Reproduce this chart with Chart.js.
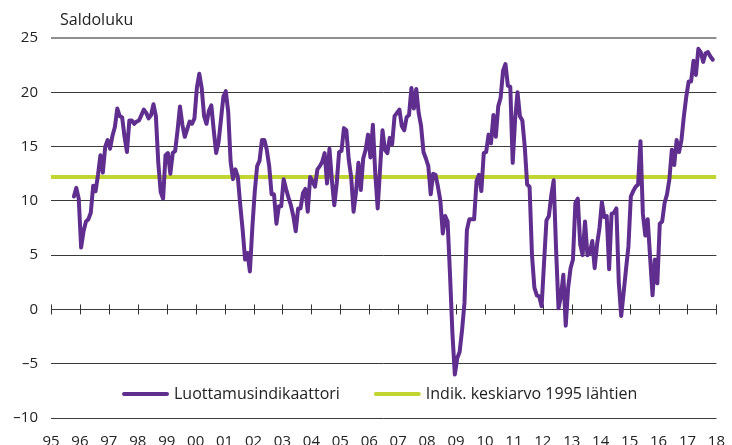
<!DOCTYPE html>
<html>
<head>
<meta charset="utf-8">
<script src="https://cdn.jsdelivr.net/npm/chart.js@4.4.0/dist/chart.umd.min.js"></script>
<style>
  html, body { margin: 0; padding: 0; background: #fff; }
  #wrap { width: 732px; height: 445px; position: relative; }
</style>
</head>
<body>
<div id="wrap"><canvas id="chart"></canvas></div>
<script>
// Monthly indicator values, first value is October 1995
const startYear = 1995;
const startMonth = 9; // 0 = January

const indicator = [
    10.4, 11.2, 10.2,                                                  // 1995 Oct-Dec
    5.7, 7.2, 8.1, 8.3, 8.9, 11.4, 10.9, 12.4, 14.2, 12.6, 15.0, 15.6, // 1996
    14.8, 16.0, 16.8, 18.5, 17.8, 17.7, 15.9, 14.5, 17.4, 17.4, 17.1, 17.3, // 1997
    17.4, 17.9, 18.4, 18.1, 17.6, 17.9, 18.9, 17.8, 13.5, 10.8, 10.2, 14.2, // 1998
    14.4, 12.5, 14.4, 14.6, 16.5, 18.7, 17.0, 15.9, 16.6, 17.3, 17.1, 17.6, // 1999
    20.4, 21.7, 20.4, 17.8, 17.1, 18.3, 18.8, 16.5, 14.4, 15.4, 17.5, 19.6, // 2000
    20.1, 18.2, 13.6, 12.0, 12.9, 12.2, 9.6, 7.3, 4.6, 5.2, 3.5, 7.5,       // 2001
    10.8, 13.2, 13.7, 15.6, 15.6, 14.7, 13.2, 10.6, 10.6, 7.9, 9.5, 9.5,    // 2002
    12.0, 11.1, 10.3, 9.6, 8.6, 7.2, 9.3, 9.3, 10.7, 11.1, 9.0, 12.2,       // 2003
    11.8, 11.3, 12.9, 13.2, 13.6, 14.4, 11.6, 14.8, 11.9, 9.6, 11.6, 14.5,  // 2004
    14.6, 16.7, 16.5, 13.8, 12.2, 9.0, 10.8, 13.5, 11.0, 13.9, 14.7, 16.1,  // 2005
    14.0, 17.0, 12.5, 9.3, 13.0, 16.5, 14.7, 14.4, 15.8, 15.2, 17.8, 18.1,  // 2006
    18.4, 16.9, 16.5, 17.7, 17.9, 20.4, 18.5, 20.3, 18.1, 16.9, 14.5, 13.9, // 2007
    13.2, 10.6, 12.5, 12.4, 11.3, 10.0, 7.0, 8.6, 8.1, 3.2, -2.2, -6.0,     // 2008
    -4.5, -3.9, -1.9, 0.6, 7.3, 8.3, 8.3, 8.3, 11.8, 12.4, 10.9, 14.4,      // 2009
    14.5, 16.1, 15.3, 17.9, 15.9, 18.7, 19.5, 22.0, 22.6, 20.6, 20.5, 13.5, // 2010
    17.5, 20.0, 17.8, 17.4, 15.0, 11.5, 11.3, 5.0, 2.0, 1.3, 1.2, 0.3,      // 2011
    4.3, 8.2, 8.6, 10.5, 11.9, 5.5, 0.1, 1.2, 3.2, -1.5, 2.0, 3.8,          // 2012
    4.6, 9.8, 10.2, 6.0, 5.0, 8.1, 5.0, 5.2, 6.3, 3.8, 6.0, 7.5,            // 2013
    9.9, 8.5, 8.6, 3.7, 8.8, 8.9, 9.3, 2.5, -0.6, 1.5, 3.7, 5.8,            // 2014
    10.4, 10.9, 11.3, 11.5, 15.5, 8.8, 6.8, 8.3, 4.8, 1.3, 4.6, 2.4,        // 2015
    7.9, 8.1, 9.8, 10.6, 12.0, 14.7, 13.3, 15.6, 14.5, 15.6, 17.8, 19.6,    // 2016
    21.0, 21.0, 22.9, 21.6, 24.0, 23.7, 22.8, 23.6, 23.7, 23.3, 23.0        // 2017 Jan-Nov
];

// Average of the indicator since 1995
const averageSince1995 = 12.2;

const yearLabels = ['95', '96', '97', '98', '99', '00', '01', '02', '03', '04', '05', '06',
    '07', '08', '09', '10', '11', '12', '13', '14', '15', '16', '17', '18'];
const firstYear = 1995;
const lastYear = 2018;

const seriesNames = ['Luottamusindikaattori', 'Indik. keskiarvo 1995 lähtien'];
const unitLabel = 'Saldoluku';

const purple = '#5f2e8e';
const green = '#c2d631';
const fontFamily = '"Open Sans", "Noto Sans", sans-serif';

// each month sits in the middle of its slot on the time axis
const indicatorPoints = indicator.map((v, i) => ({
    x: startYear + (startMonth + i + 0.5) / 12,
    y: v
}));
const averagePoints = [
    { x: firstYear, y: averageSince1995 },
    { x: lastYear, y: averageSince1995 }
];

// Tick marks across the zero line, unit label and the legend inside the plot
const decorations = {
    id: 'decorations',
    beforeDatasetsDraw(chart) {
        const { ctx, scales } = chart;
        const x = scales.x;
        const y0 = scales.y.getPixelForValue(0);
        ctx.save();
        ctx.strokeStyle = '#333';
        ctx.lineWidth = 1;
        x.ticks.forEach(t => {
            const px = Math.round(x.getPixelForValue(t.value)) + 0.5;
            ctx.beginPath();
            ctx.moveTo(px, y0 - 5);
            ctx.lineTo(px, y0 + 5);
            ctx.stroke();
        });
        ctx.restore();
    },
    afterDraw(chart) {
        const { ctx, chartArea, scales } = chart;
        ctx.save();
        ctx.font = '16px ' + fontFamily;
        ctx.fillStyle = '#222';
        ctx.textBaseline = 'middle';
        ctx.textAlign = 'left';
        ctx.fillText(unitLabel, chartArea.left + 9, 20);

        // legend
        const lineW = 47, gap = 5, itemGap = 34;
        const items = chart.data.datasets.map(ds => ({
            text: ds.label,
            color: ds.borderColor,
            w: lineW + gap + ctx.measureText(ds.label).width
        }));
        const total = items.reduce((s, it) => s + it.w, 0) + itemGap * (items.length - 1);
        let cx = (chartArea.left + chartArea.right) / 2 - 4 - total / 2;
        const ly = scales.y.getPixelForValue(-7.8);
        items.forEach(it => {
            ctx.strokeStyle = it.color;
            ctx.lineWidth = 4;
            ctx.lineCap = 'round';
            ctx.beginPath();
            ctx.moveTo(cx + 2, ly);
            ctx.lineTo(cx + lineW - 2, ly);
            ctx.stroke();
            ctx.fillText(it.text, cx + lineW + gap, ly);
            cx += it.w + itemGap;
        });
        ctx.restore();
    }
};

const chart = new Chart(document.getElementById('chart'), {
    type: 'line',
    data: {
        datasets: [{
            label: seriesNames[0],
            data: indicatorPoints,
            borderColor: purple,
            borderWidth: 4,
            borderJoinStyle: 'round',
            borderCapStyle: 'round',
            pointRadius: 0,
            tension: 0
        }, {
            label: seriesNames[1],
            data: averagePoints,
            borderColor: green,
            borderWidth: 4,
            pointRadius: 0,
            tension: 0
        }]
    },
    options: {
        responsive: true,
        maintainAspectRatio: false,
        animation: false,
        events: [],
        layout: {
            padding: { top: 38, right: 12, left: 0, bottom: 0 }
        },
        plugins: {
            legend: { display: false },
            tooltip: { enabled: false }
        },
        scales: {
            x: {
                type: 'linear',
                min: firstYear,
                max: lastYear,
                border: { display: false },
                grid: { display: false },
                ticks: {
                    stepSize: 1,
                    autoSkip: false,
                    maxRotation: 0,
                    padding: 7,
                    color: '#222',
                    font: { family: fontFamily, size: 15 },
                    callback: (value) => yearLabels[Math.round(value) - firstYear]
                },
                afterFit: (scale) => { scale.height = 27; }
            },
            y: {
                min: -10,
                max: 25,
                border: { display: false },
                grid: {
                    drawTicks: false,
                    color: (c) => c.tick && c.tick.value === 25 ? '#8f8f8f' : '#3a3a3a',
                    lineWidth: (c) => c.tick && c.tick.value === 25 ? 2 : 1
                },
                ticks: {
                    stepSize: 5,
                    padding: 13,
                    color: '#222',
                    font: { family: fontFamily, size: 15 },
                    callback: (value) => value < 0 ? '\u2013' + Math.abs(value) : String(value)
                },
                afterFit: (scale) => { scale.width = 51; }
            }
        }
    },
    plugins: [decorations]
});
</script>
</body>
</html>
